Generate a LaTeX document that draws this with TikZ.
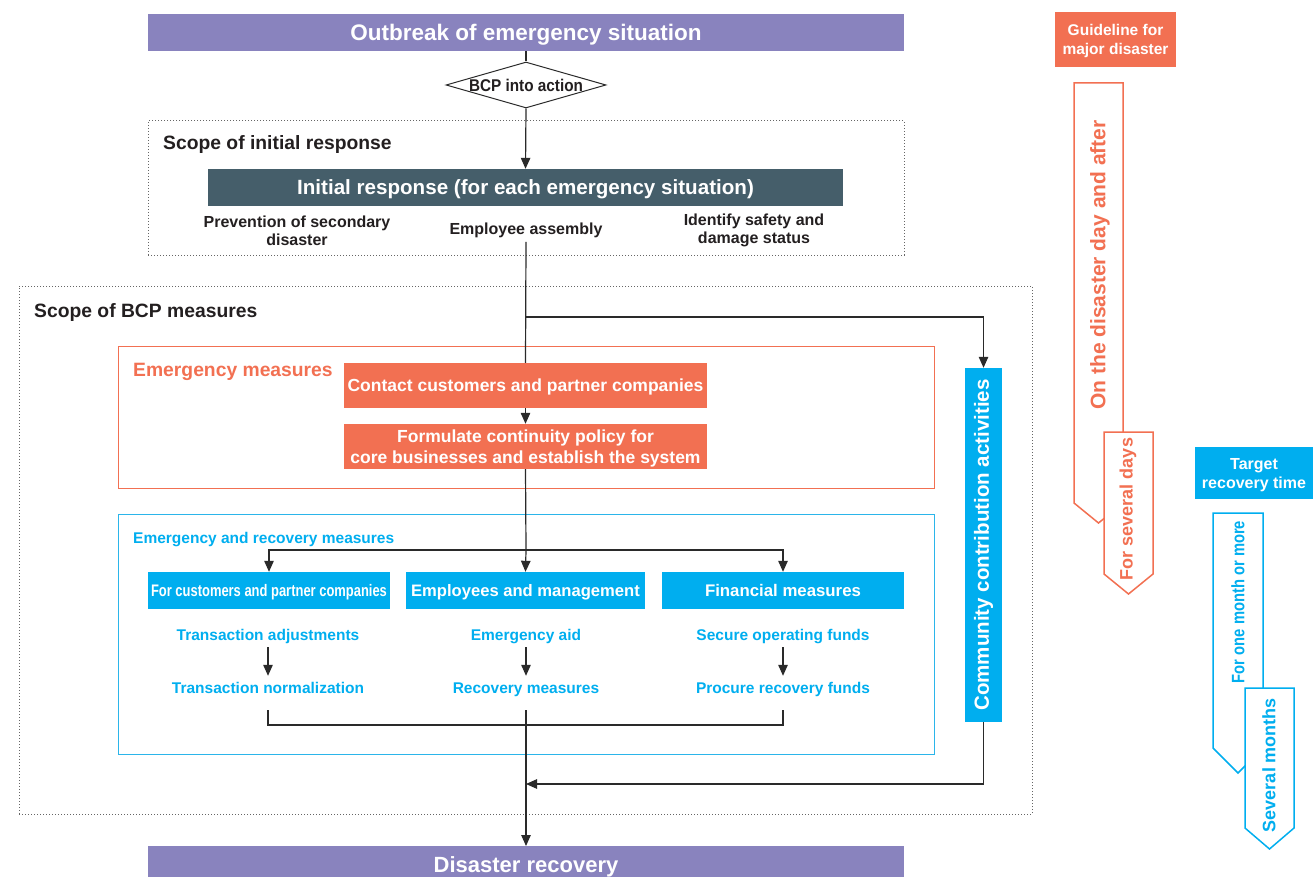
\documentclass[tikz,border=0pt]{standalone}
\usepackage{fontspec}
\setmainfont{Liberation Sans}
\usepackage{graphicx}
\usetikzlibrary{arrows.meta,shapes.geometric,calc}
\definecolor{cpurple}{HTML}{8983BE}
\definecolor{cslate}{HTML}{455E6A}
\definecolor{corange}{HTML}{F27052}
\definecolor{cblue}{HTML}{00AEEF}
\definecolor{cblueline}{HTML}{2BB5EA}
\definecolor{ctext}{HTML}{231F20}
\definecolor{cline}{HTML}{2A2A2A}
\definecolor{cdot}{HTML}{666666}
\newcommand\sx[2]{\scalebox{#1}[1]{#2}}
\newcommand\fz[2]{\fontsize{#1}{#2}\selectfont\bfseries}
\begin{document}
\begin{tikzpicture}[x=1pt,y=-1pt,
  fillbox/.style={rectangle,inner sep=0pt,text=white,align=center},
  one/.style={text height=#1,text depth=0pt},
  plain/.style={inner sep=0pt,text=ctext,align=center},
  line/.style={draw=cline,line width=1.2pt},
  arr/.style={line,-{Triangle[length=11pt,width=9.5pt]}},
  dotbox/.style={rectangle,draw=cdot,line width=1pt,dash pattern=on 1pt off 2pt,inner sep=0pt},
  subt/.style={text=cblue,font=\fz{15.5}{18},inner sep=6.5pt,text height=11pt,text depth=0pt},
  irt/.style={plain,font=\fz{16}{18}},
  rarrow/.style={line width=1.5pt,fill=white,line join=miter}
]
\useasboundingbox (0,0) rectangle (1313,877);

% ---- frames ----
\node[dotbox,minimum width=756pt,minimum height=134pt] (sir) at (526,188) {};
\node[dotbox,minimum width=1013pt,minimum height=528pt] (sbcp) at (525.5,550) {};
\node[rectangle,draw=corange,line width=0.9pt,minimum width=816pt,minimum height=142pt,inner sep=0pt] (emf) at (526,417) {};
\node[rectangle,draw=cblueline,line width=0.9pt,minimum width=816pt,minimum height=240pt,inner sep=0pt] (erf) at (526,634) {};

\node[plain,one=13.9pt,anchor=west,font=\fz{19.3}{22}] (lsir) at (163,143) {Scope of initial response};
\node[plain,one=13.9pt,anchor=west,font=\fz{19.3}{22}] (lsbcp) at (34,311) {Scope of BCP measures};
\node[plain,one=13.9pt,anchor=west,text=corange,font=\fz{19.3}{22}] (lemf) at (133,369.5) {Emergency measures};
\node[plain,one=11.2pt,anchor=west,text=cblue,font=\fz{15.5}{18}] (lerf) at (133,537.5) {Emergency and recovery measures};

% ---- main flow ----
\node[fillbox,one=16.2pt,fill=cpurple,minimum width=756pt,minimum height=37pt,font=\fz{22.5}{26}] (top) at (526,32.5) {Outbreak of emergency situation};
\node[diamond,draw=cline,line width=1pt,fill=white,minimum width=160pt,minimum height=46pt,inner sep=0pt] (bcp) at (526,85) {};
\node[plain,one=12.2pt,font=\fz{17}{20}] (bcpt) at (bcp.center) {\sx{0.9}{BCP into action}};
\node[fillbox,one=14.8pt,fill=cslate,minimum width=635pt,minimum height=37pt,font=\fz{20.6}{24}] (ir) at (525.5,187.5) {Initial response (for each emergency situation)};

\node[irt] (prev) at (297,230.5) {Prevention of secondary\\disaster};
\node[irt,text height=11.5pt,text depth=0pt,inner sep=7pt] (emp) at (526,229) {Employee assembly};
\node[irt] (ident) at (754,230.5) {Identify safety and\\damage status};

\node[fillbox,one=12.6pt,fill=corange,minimum width=363pt,minimum height=45pt,font=\fz{17.5}{20.5}] (contact) at (525.5,385.5) {Contact customers and partner companies};
\node[fillbox,fill=corange,minimum width=363pt,minimum height=45pt] (form) at (525.5,446.5) {};
\node[plain,text=white,font=\fz{17.5}{20.5}] (formt) at ($(form.center)+(0,2)$) {Formulate continuity policy for\\core businesses and establish the system};

\node[fillbox,one=12pt,fill=cblue,minimum width=242pt,minimum height=37pt,font=\fz{16.7}{20}] (b1) at (269,590.5) {\sx{0.775}{For customers and partner companies}};
\node[fillbox,one=12pt,fill=cblue,minimum width=239pt,minimum height=37pt,font=\fz{16.6}{20}] (b2) at (525.5,590.5) {Employees and management};
\node[fillbox,one=12pt,fill=cblue,minimum width=242pt,minimum height=37pt,font=\fz{16.8}{20}] (b3) at (783,590.5) {Financial measures};

\node[subt] (t11) at (268,635) {Transaction adjustments};
\node[subt] (t12) at (268,688) {Transaction normalization};
\node[subt] (t21) at (526,635) {Emergency aid};
\node[subt] (t22) at (526,688) {Recovery measures};
\node[subt] (t31) at (783,635) {Secure operating funds};
\node[subt] (t32) at (783,688) {Procure recovery funds};

\node[fillbox,fill=cblue,minimum width=37pt,minimum height=354pt,font=\fz{20.5}{24}] (comm) at (983.5,545) {\rotatebox{90}{Community contribution activities}};

\node[fillbox,fill=cpurple,minimum width=756pt,minimum height=31pt,anchor=north] (bot) at (526,846) {};
\node[plain,one=15.8pt,text=white,font=\fz{22}{26}] (bott) at (526,865) {Disaster recovery};

\coordinate (split) at (526,317);
\coordinate (br) at (526,550);
\coordinate (brk) at (526,725);
\coordinate (join) at (526,784);

\draw[line] (top.south) -- (bcp.north);
\draw[arr] (bcp.south) -- (ir.north);
\draw[line] (emp.south) -- (contact.north);
\draw[arr] (split) -| (comm.north);
\draw[arr] (contact.south) -- (form.north);
\draw[line] (form.south) -- (br);
\draw[arr] (br) -- (b2.north);
\draw[arr] (br) -| (b1.north);
\draw[arr] (br) -| (b3.north);
\draw[arr] (t11.south) -- (t12.north);
\draw[arr] (t21.south) -- (t22.north);
\draw[arr] (t31.south) -- (t32.north);
\draw[line] ([yshift=-10pt]t12.south) |- (brk) -| ([yshift=-10pt]t32.south);
\draw[arr] ([yshift=-10pt]t22.south) -- (bot.north);
\draw[arr] (comm.south) |- (join);

% ---- right side ----
\node[fillbox,fill=corange,minimum width=121pt,minimum height=55pt] (guide) at (1115.5,39.5) {};
\node[plain,text=white,font=\fz{15.5}{19}] (guidet) at ($(guide.center)+(0,1.5)$) {Guideline for\\major disaster};
\draw[rarrow,draw=corange] (1074,83) -- (1123,83) -- (1123,503) -- (1098.5,523) -- (1074,503) -- cycle;
\draw[rarrow,draw=corange] (1104,432) -- (1153,432) -- (1153,574) -- (1128.5,594) -- (1104,574) -- cycle;
\node[plain,text=corange,font=\fz{21}{24}] (oday) at (1100,265) {\rotatebox{90}{On the disaster day and after}};
\node[plain,text=corange,font=\fz{18}{21}] (sevd) at (1128,509) {\rotatebox{90}{For several days}};

\node[fillbox,fill=cblue,minimum width=122pt,minimum height=52pt,anchor=west] (target) at (1195,473) {};
\node[plain,text=white,font=\fz{16}{19}] (targett) at (1254,475) {Target\\recovery time};
\draw[rarrow,draw=cblue] (1213,513) -- (1263,513) -- (1263,748) -- (1238,773) -- (1213,748) -- cycle;
\draw[rarrow,draw=cblue] (1245,688) -- (1294,688) -- (1294,828) -- (1269.5,849) -- (1245,828) -- cycle;
\node[plain,text=cblue,font=\fz{18}{21}] (onem) at (1238,602) {\rotatebox{90}{\sx{0.82}{For one month or more}}};
\node[plain,text=cblue,font=\fz{18}{21}] (sevm) at (1269,765) {\rotatebox{90}{Several months}};
\end{tikzpicture}
\end{document}
